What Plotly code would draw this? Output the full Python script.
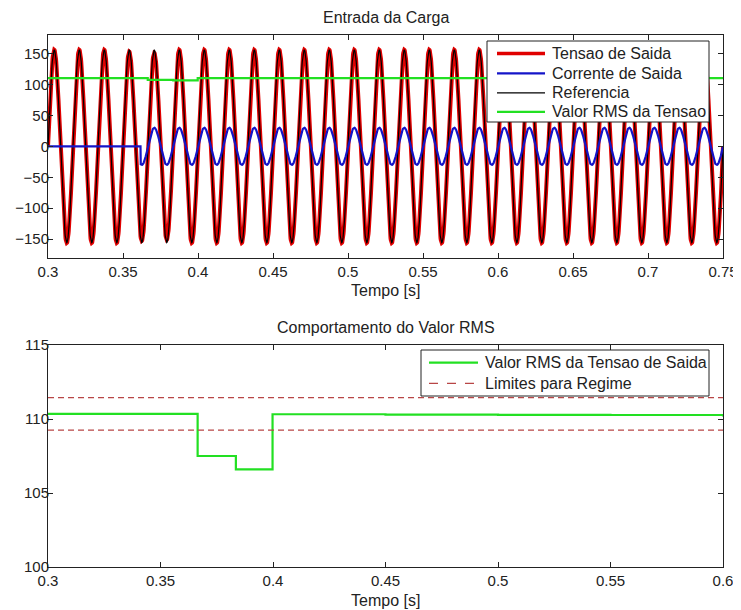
import numpy as np
import plotly.graph_objects as go

# ---------------- data ----------------
FREQ_HZ = 60.0                     # mains frequency of the waveforms
T_START, T_END = 0.30, 0.75        # time span of the upper plot [s]
REF_PEAK = 155.6                   # reference voltage peak [V]

# output-voltage peak for every 60 Hz cycle from 0.30 s to 0.75 s (27 cycles)
out_cycle_peak = [156, 156, 156, 153, 151, 156, 156, 156, 156,
                  156, 156, 156, 156, 156, 156, 156, 156, 156,
                  156, 156, 156, 156, 156, 156, 156, 156, 156]

CUR_ON_TIME = 0.3618               # instant the load is switched in [s]
CUR_PEAK = 30.0                    # output-current peak [A]

# RMS of the output voltage (step values, held until the next time)
rms_time = [0.300, 0.3665, 0.3835, 0.3998, 0.450, 0.500, 0.550, 0.600, 0.750]
rms_value = [110.35, 107.5, 106.6, 110.32, 110.30, 110.28, 110.27, 110.25, 110.25]

limit_upper = 111.45
limit_lower = 109.25

top_xticks = [0.30, 0.35, 0.40, 0.45, 0.50, 0.55, 0.60, 0.65, 0.70, 0.75]
top_xlabels = ["0.3", "0.35", "0.4", "0.45", "0.5", "0.55", "0.6", "0.65", "0.7", "0.75"]
top_yticks = [-150, -100, -50, 0, 50, 100, 150]
bot_xticks = [0.30, 0.35, 0.40, 0.45, 0.50, 0.55, 0.60]
bot_xlabels = ["0.3", "0.35", "0.4", "0.45", "0.5", "0.55", "0.6"]
bot_yticks = [100, 105, 110, 115]

top_names = ["Tensao de Saida", "Corrente de Saida", "Referencia", "Valor RMS da Tensao"]
bot_names = ["Valor RMS da Tensao de Saida", "Limites para Regime"]

# ---------------- waveforms sampled from the read parameters ----------------
t = np.linspace(T_START, T_END, 2701)
cycle = np.clip(((t - T_START) * FREQ_HZ).astype(int), 0, len(out_cycle_peak) - 1)
phase = np.sin(2 * np.pi * FREQ_HZ * t)
v_out = np.array(out_cycle_peak)[cycle] * phase
v_ref = REF_PEAK * phase
i_out = np.where(t >= CUR_ON_TIME, CUR_PEAK * phase, 0.0)

# ---------------- layout geometry ----------------
# the page places the figure 8 px from the window's top-left corner
PAGE_OFF = 8
W, H = 741 - PAGE_OFF, 610 - PAGE_OFF
AX_L, AX_R, AX_T, AX_B = 48, 723, 35, 567     # plot-area edges in window pixels
ML = AX_L - PAGE_OFF
MR = W - (AX_R - PAGE_OFF)
MT = AX_T - PAGE_OFF
MB = H - (AX_B - PAGE_OFF)
PW, PH = AX_R - AX_L, AX_B - AX_T


def px(x):
    return (x - AX_L) / PW


def py(y):
    return (AX_B - y) / PH


RED = "#e00000"
BLUE = "#1414c8"
GREEN = "#22e022"
DASH = "#b84646"
INK = "#222222"
FONT = "Liberation Sans, Arial, sans-serif"

fig = go.Figure()
fig.add_trace(go.Scatter(x=t, y=v_out, mode="lines", name=top_names[0],
                         line=dict(color=RED, width=4), xaxis="x", yaxis="y"))
fig.add_trace(go.Scatter(x=t, y=v_ref, mode="lines", name=top_names[2],
                         line=dict(color="#000000", width=1.2), xaxis="x", yaxis="y"))
fig.add_trace(go.Scatter(x=t, y=i_out, mode="lines", name=top_names[1],
                         line=dict(color=BLUE, width=2.2), xaxis="x", yaxis="y"))
fig.add_trace(go.Scatter(x=rms_time, y=rms_value, mode="lines", name=top_names[3],
                         line=dict(color=GREEN, width=2.2, shape="hv"), xaxis="x", yaxis="y"))

fig.add_trace(go.Scatter(x=rms_time, y=rms_value, mode="lines", name=bot_names[0],
                         line=dict(color=GREEN, width=2.2, shape="hv"), xaxis="x2", yaxis="y2"))
fig.add_trace(go.Scatter(x=[bot_xticks[0], bot_xticks[-1]], y=[limit_upper, limit_upper], mode="lines",
                         name=bot_names[1], line=dict(color=DASH, width=1.3, dash="6px,4px"),
                         xaxis="x2", yaxis="y2"))
fig.add_trace(go.Scatter(x=[bot_xticks[0], bot_xticks[-1]], y=[limit_lower, limit_lower], mode="lines",
                         name=bot_names[1], line=dict(color=DASH, width=1.3, dash="6px,4px"),
                         xaxis="x2", yaxis="y2"))

axis_style = dict(showline=True, linecolor=INK, linewidth=1, mirror="ticks", ticks="inside",
                  ticklen=5, tickcolor=INK, showgrid=False, zeroline=False, automargin=False,
                  tickfont=dict(size=15, color=INK, family=FONT))
yaxis_style = dict(axis_style, ticklabelstandoff=-5)

fig.update_layout(
    template="none",
    width=W, height=H,
    margin=dict(l=ML, r=MR, t=MT, b=MB, autoexpand=False),
    paper_bgcolor="white", plot_bgcolor="white",
    font=dict(family=FONT, color=INK),
    showlegend=False,
    xaxis=dict(domain=[0, 1], range=[T_START, T_END], tickvals=top_xticks, ticktext=top_xlabels,
               anchor="y", **axis_style),
    yaxis=dict(domain=[py(257.7), 1.0], range=[-180, 180], tickvals=top_yticks, anchor="x", **yaxis_style),
    xaxis2=dict(domain=[0, 1], range=[bot_xticks[0], bot_xticks[-1]], tickvals=bot_xticks,
                ticktext=bot_xlabels, anchor="y2", **axis_style),
    yaxis2=dict(domain=[0, py(345)], range=[bot_yticks[0], bot_yticks[-1]], tickvals=bot_yticks,
                anchor="x2", **yaxis_style),
)

annotations = [
    dict(text="Entrada da Carga", x=0.5, y=py(17.5), xanchor="center", yanchor="middle"),
    dict(text="Tempo [s]", x=0.5, y=py(290), xanchor="center", yanchor="middle"),
    dict(text="Comportamento do Valor RMS", x=0.5, y=py(327.5), xanchor="center", yanchor="middle"),
    dict(text="Tempo [s]", x=0.5, y=py(600), xanchor="center", yanchor="middle"),
]
shapes = []

# legend of the upper plot
shapes.append(dict(type="rect", xref="paper", yref="paper", x0=px(487), x1=px(709), y0=py(41), y1=py(122),
                   line=dict(color=INK, width=1), fillcolor="white", layer="above"))
leg1 = [(top_names[0], RED, 3.5, "solid", 53.5), (top_names[1], BLUE, 2.2, "solid", 73.3),
        (top_names[2], "#000000", 1.2, "solid", 92.8), (top_names[3], GREEN, 2.2, "solid", 111.8)]
for name, col, w, dash, yy in leg1:
    shapes.append(dict(type="line", xref="paper", yref="paper", x0=px(497), x1=px(545), y0=py(yy), y1=py(yy),
                       line=dict(color=col, width=w, dash=dash), layer="above"))
    annotations.append(dict(text=name, x=px(550), y=py(yy), xanchor="left", yanchor="middle"))

# legend of the lower plot
shapes.append(dict(type="rect", xref="paper", yref="paper", x0=px(421), x1=px(709), y0=py(350), y1=py(396),
                   line=dict(color=INK, width=1), fillcolor="white", layer="above"))
leg2 = [(bot_names[0], GREEN, 2.2, "solid", 362.7), (bot_names[1], DASH, 1.3, "dash", 383.3)]
for name, col, w, dash, yy in leg2:
    shapes.append(dict(type="line", xref="paper", yref="paper", x0=px(429), x1=px(478), y0=py(yy), y1=py(yy),
                       line=dict(color=col, width=w, dash=dash), layer="above"))
    annotations.append(dict(text=name, x=px(483), y=py(yy), xanchor="left", yanchor="middle"))

for a in annotations:
    a.update(xref="paper", yref="paper", showarrow=False, font=dict(size=16, color=INK, family=FONT))

fig.update_layout(annotations=annotations, shapes=shapes)
fig.write_html("out.html")
